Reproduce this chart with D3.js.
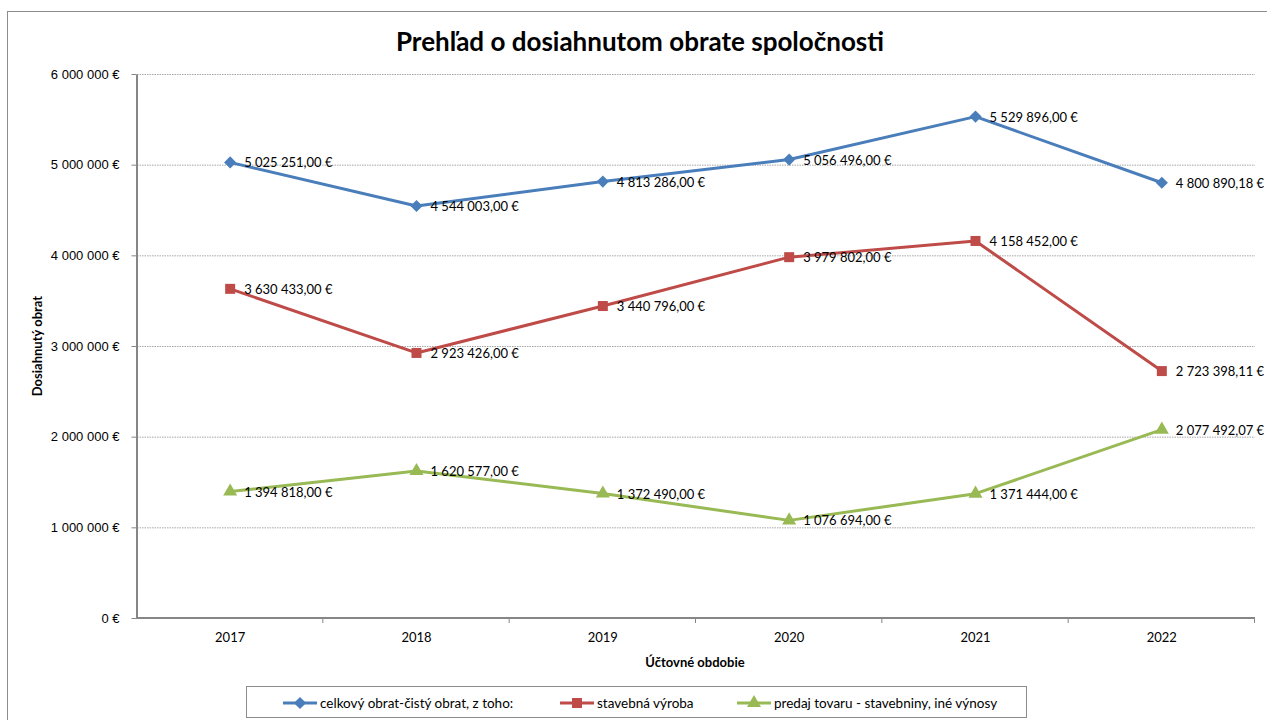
<!DOCTYPE html>
<html>
<head>
<meta charset="utf-8">
<script src="https://cdn.jsdelivr.net/npm/d3@7"></script>
<style>
  html, body { margin: 0; padding: 0; background: #fff; }
  svg { display: block; font-family: Lato, "Open Sans", sans-serif; }
</style>
</head>
<body>
<svg id="chart" width="1267" height="720"></svg>
<script>
// Data
const years = ["2017", "2018", "2019", "2020", "2021", "2022"];
const celkovy = [5025251.00, 4544003.00, 4813286.00, 5056496.00, 5529896.00, 4800890.18];
const stavebna = [3630433.00, 2923426.00, 3440796.00, 3979802.00, 4158452.00, 2723398.11];
const predaj = [1394818.00, 1620577.00, 1372490.00, 1076694.00, 1371444.00, 2077492.07];
const yTicks = [0, 1000000, 2000000, 3000000, 4000000, 5000000, 6000000];
const seriesNames = [
  "celkový obrat-čistý obrat, z toho:",
  "stavebná výroba",
  "predaj tovaru - stavebniny, iné výnosy"
];

const series = [
  { name: seriesNames[0], values: celkovy, color: "#4A7EBB", marker: d3.symbolSquare, size: 74, rot: 45 },
  { name: seriesNames[1], values: stavebna, color: "#BE4B48", marker: d3.symbolSquare, size: 100, rot: 0 },
  { name: seriesNames[2], values: predaj, color: "#98B954", marker: d3.symbolTriangle, size: 85, rot: 0 }
];

const sk = d3.formatLocale({ decimal: ",", thousands: "\u00a0", grouping: [3], currency: ["", " €"] });
const fmtTick = (v) => sk.format(",.0f")(v) + "\u00a0€";
const fmtVal = (v) => sk.format(",.2f")(v) + "\u00a0€";

const svg = d3.select("#chart");
const M = { left: 137, right: 1255, top: 74, bottom: 618 };

// outer chart border
svg.append("rect")
  .attr("x", 7.5).attr("y", 11.5)
  .attr("width", 1300).attr("height", 800)
  .attr("fill", "none").attr("stroke", "#8c8c8c").attr("stroke-width", 1);

const x = d3.scaleBand().domain(years).range([M.left, M.right]);
const y = d3.scaleLinear().domain([0, 6000000]).range([M.bottom, M.top]);
const cx = (i) => x(years[i]) + x.bandwidth() / 2;

// gridlines
svg.append("g")
  .selectAll("line")
  .data(yTicks.filter((t) => t > 0))
  .join("line")
  .attr("x1", M.left).attr("x2", M.right)
  .attr("y1", (d) => y(d) + 0.5).attr("y2", (d) => y(d) + 0.5)
  .attr("stroke", "#a6a6a6")
  .attr("stroke-width", 1)
  .attr("stroke-dasharray", "1.5,1");

// y axis
const yAxis = svg.append("g")
  .attr("transform", `translate(${M.left - 0.5},0)`)
  .call(d3.axisLeft(y).tickValues(yTicks).tickSize(5).tickSizeOuter(0).tickFormat(fmtTick).tickPadding(12));
yAxis.select(".domain").attr("stroke", "#868686").attr("stroke-width", 2);
yAxis.selectAll(".tick line").attr("stroke", "#868686");
yAxis.selectAll(".tick text").attr("fill", "#000").style("font-size", "13px");

// x axis with ticks between categories
const xAxis = svg.append("g").attr("transform", `translate(0,${M.bottom})`);
xAxis.append("line")
  .attr("x1", M.left - 1).attr("x2", M.right)
  .attr("stroke", "#868686").attr("stroke-width", 2);
xAxis.selectAll(".xt")
  .data(years.slice(1).concat(["end"]))
  .join("line")
  .attr("x1", (d, i) => (i < years.length - 1 ? x(d) : M.right) - 0.5)
  .attr("x2", (d, i) => (i < years.length - 1 ? x(d) : M.right) - 0.5)
  .attr("y1", 0).attr("y2", 5)
  .attr("stroke", "#868686").attr("stroke-width", 1);
xAxis.selectAll("text")
  .data(years)
  .join("text")
  .attr("x", (d) => x(d) + x.bandwidth() / 2)
  .attr("y", 24)
  .attr("text-anchor", "middle")
  .style("font-size", "13px")
  .text((d) => d);

// axis titles
svg.append("text")
  .attr("x", 695).attr("y", 667)
  .attr("text-anchor", "middle")
  .style("font-size", "13px").style("font-weight", "bold")
  .text("Účtovné obdobie");
svg.append("text")
  .attr("transform", "translate(42,346) rotate(-90)")
  .attr("text-anchor", "middle")
  .style("font-size", "13px").style("font-weight", "bold")
  .text("Dosiahnutý obrat");

// title
svg.append("text")
  .attr("x", 640).attr("y", 51)
  .attr("text-anchor", "middle")
  .style("font-size", "26px").style("font-weight", "bold")
  .text("Prehľad o dosiahnutom obrate spoločnosti");

// series
const line = d3.line().x((d, i) => cx(i)).y((d) => y(d));
series.forEach((s) => {
  const g = svg.append("g");
  g.append("path")
    .attr("d", line(s.values))
    .attr("fill", "none")
    .attr("stroke", s.color)
    .attr("stroke-width", 3)
    .attr("stroke-linejoin", "round");
  g.selectAll("path.m")
    .data(s.values)
    .join("path")
    .attr("class", "m")
    .attr("transform", (d, i) => `translate(${cx(i)},${y(d)}) rotate(${s.rot})`)
    .attr("d", d3.symbol().type(s.marker).size(s.size))
    .attr("fill", s.color);
  g.selectAll("text")
    .data(s.values)
    .join("text")
    .attr("x", (d, i) => cx(i) + 14)
    .attr("y", (d) => y(d))
    .attr("dominant-baseline", "central")
    .style("font-size", "13px")
    .text((d) => fmtVal(d));
});

// legend
const legend = svg.append("g");
legend.append("rect")
  .attr("x", 246.5).attr("y", 686.5)
  .attr("width", 780).attr("height", 31)
  .attr("fill", "#fff").attr("stroke", "#8c8c8c");
const legX = [283, 560, 737];
series.forEach((s, i) => {
  const lg = legend.append("g").attr("transform", `translate(${legX[i]},703)`);
  lg.append("line").attr("x1", 0).attr("x2", 34)
    .attr("stroke", s.color).attr("stroke-width", 3);
  lg.append("path")
    .attr("transform", `translate(17,0) rotate(${s.rot})`)
    .attr("d", d3.symbol().type(s.marker).size(s.size))
    .attr("fill", s.color);
  lg.append("text")
    .attr("x", 37).attr("y", 0)
    .attr("dominant-baseline", "central")
    .style("font-size", "13.5px")
    .text(s.name);
});
</script>
</body>
</html>
